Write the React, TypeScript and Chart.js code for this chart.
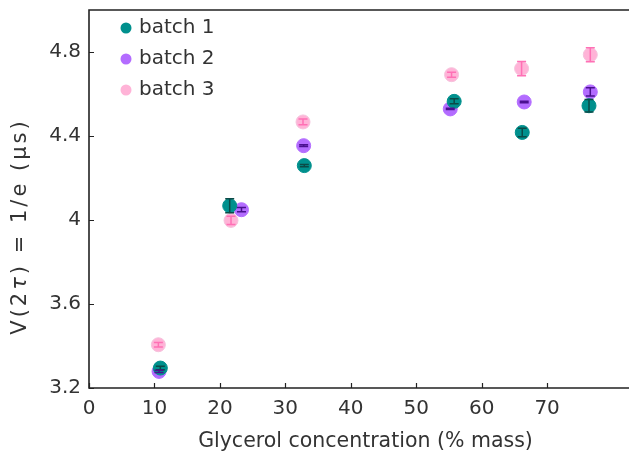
import React, { useEffect, useRef } from "react";
import { Chart, registerables } from "chart.js";
Chart.register(...registerables);

const seriesNames = ["batch 1", "batch 2", "batch 3"];
const b1X = [10.9, 21.5, 32.9, 55.8, 66.2, 76.4];
const b1Y = [3.295, 4.068, 4.259, 4.565, 4.417, 4.544];
const b1E = [0.008, 0.033, 0.005, 0.012, 0.02, 0.03];
const b2X = [10.7, 23.3, 32.8, 55.2, 66.5, 76.6];
const b2Y = [3.279, 4.049, 4.354, 4.529, 4.562, 4.61];
const b2E = [0.005, 0.01, 0.004, 0.003, 0.004, 0.02];
const b3X = [10.6, 21.7, 32.7, 55.4, 66.1, 76.6];
const b3Y = [3.406, 3.998, 4.467, 4.692, 4.721, 4.787];
const b3E = [0.011, 0.02, 0.014, 0.012, 0.034, 0.033];
const xTicks = [0, 10, 20, 30, 40, 50, 60, 70];
const yTicks = [3.2, 3.6, 4.0, 4.4, 4.8];
const yTitleParts = ["V(2", "τ", ") = 1/e (μs)"];

const fillColors = ["#00908d", "#b36cff", "#ffb3d7"];
const errColors = ["#0b4a47", "#4a1090", "#ff70b5"];
const FONT = "'DejaVu Sans', Verdana, sans-serif";

export default function App() {
  const ref = useRef<HTMLCanvasElement | null>(null);
  useEffect(() => {
    if (!ref.current) return;
    const xs = [b1X, b2X, b3X];
    const ys = [b1Y, b2Y, b3Y];
    const es = [b1E, b2E, b3E];
    const datasets = seriesNames.map((n, i) => ({
      label: n,
      data: xs[i].map((x, j) => ({ x, y: ys[i][j] })),
      backgroundColor: fillColors[i],
      borderColor: i === 2 ? "#f5c2dc" : fillColors[i],
      borderWidth: 1,
      pointRadius: 7,
    }));

    const plugin = {
      id: "custom",
      afterDatasetsDraw(chart: any) {
        const ctx = chart.ctx;
        const sx = chart.scales.x, sy = chart.scales.y;
        ctx.save();
        for (let i = 0; i < 3; i++) {
          ctx.strokeStyle = errColors[i];
          ctx.lineWidth = 1.5;
          xs[i].forEach((x, j) => {
            const px = sx.getPixelForValue(x);
            const t = sy.getPixelForValue(ys[i][j] + es[i][j]);
            const b = sy.getPixelForValue(ys[i][j] - es[i][j]);
            ctx.beginPath();
            ctx.moveTo(px, t); ctx.lineTo(px, b);
            ctx.moveTo(px - 4.5, t); ctx.lineTo(px + 4.5, t);
            ctx.moveTo(px - 4.5, b); ctx.lineTo(px + 4.5, b);
            ctx.stroke();
          });
        }
        const ca = chart.chartArea;
        ctx.strokeStyle = "#222";
        ctx.lineWidth = 1.6;
        ctx.beginPath();
        ctx.moveTo(chart.width, ca.top); ctx.lineTo(ca.left, ca.top);
        ctx.lineTo(ca.left, ca.bottom); ctx.lineTo(chart.width, ca.bottom);
        ctx.stroke();
        ctx.lineWidth = 1.2;
        ctx.beginPath();
        xTicks.forEach((v) => {
          const p = Math.round(sx.getPixelForValue(v)) + 0.5;
          ctx.moveTo(p, ca.bottom); ctx.lineTo(p, ca.bottom - 5);
        });
        yTicks.forEach((v) => {
          const p = Math.round(sy.getPixelForValue(v)) + 0.5;
          ctx.moveTo(ca.left, p); ctx.lineTo(ca.left + 5, p);
        });
        ctx.stroke();
        // legend
        ctx.font = `20px ${FONT}`;
        ctx.textBaseline = "middle";
        ctx.textAlign = "left";
        seriesNames.forEach((n, i) => {
          const y = 28 + i * 31;
          ctx.fillStyle = fillColors[i];
          ctx.beginPath();
          ctx.arc(126, y, 5.5, 0, Math.PI * 2);
          ctx.fill();
          ctx.fillStyle = "#333";
          ctx.fillText(n, 139, y);
        });
        // y title
        ctx.save();
        ctx.translate(21, 228);
        ctx.rotate(-Math.PI / 2);
        (ctx as any).letterSpacing = "3px";
        const fonts = [`21px ${FONT}`, `italic 21px ${FONT}`, `21px ${FONT}`];
        const widths = yTitleParts.map((p, k) => { ctx.font = fonts[k]; return ctx.measureText(p).width; });
        const total = widths.reduce((a, b) => a + b, 0) - 3;
        let cx = -total / 2;
        ctx.fillStyle = "#333";
        yTitleParts.forEach((p, k) => {
          ctx.font = fonts[k];
          ctx.fillText(p, cx, 0);
          cx += widths[k];
        });
        ctx.restore();
        ctx.restore();
      },
    };

    const chart = new Chart(ref.current, {
      type: "scatter",
      data: { datasets },
      plugins: [plugin],
      options: {
        animation: false,
        responsive: false,
        maintainAspectRatio: false,
        layout: { padding: { top: 0, right: 0, left: 0, bottom: 0 } },
        plugins: { legend: { display: false }, tooltip: { enabled: false } },
        scales: {
          x: {
            type: "linear",
            min: 0,
            max: 84.5,
            grid: { display: false, drawTicks: false },
            border: { display: false },
            afterBuildTicks: (s: any) => { s.ticks = xTicks.map((v) => ({ value: v })); },
            afterFit: (s: any) => { s.height = 66; },
            ticks: { color: "#333", font: { family: FONT, size: 20 }, padding: 9, callback: (v: any) => String(v) },
            title: { display: true, text: "Glycerol concentration (% mass)", color: "#333", font: { family: FONT, size: 20.5 }, padding: { top: 4, bottom: 0 } },
          },
          y: {
            type: "linear",
            min: 3.2,
            max: 5.0,
            grid: { display: false, drawTicks: false },
            border: { display: false },
            afterBuildTicks: (s: any) => { s.ticks = yTicks.map((v) => ({ value: v })); },
            afterFit: (s: any) => { s.width = 89; s.paddingTop = 10; },
            ticks: { color: "#333", font: { family: FONT, size: 20 }, padding: 8, callback: (v: any) => (Math.abs(v - 4) < 1e-9 ? "4" : Number(v).toFixed(1)) },
            title: { display: false },
          },
        },
      },
    } as any);
    return () => chart.destroy();
  }, []);
  return (
    <div style={{ position: "fixed", left: 0, top: 0, width: 629, height: 454, background: "#fff", overflow: "hidden" }}>
      <canvas ref={ref} width={650} height={454} style={{ width: 650, height: 454 }} />
    </div>
  );
}
